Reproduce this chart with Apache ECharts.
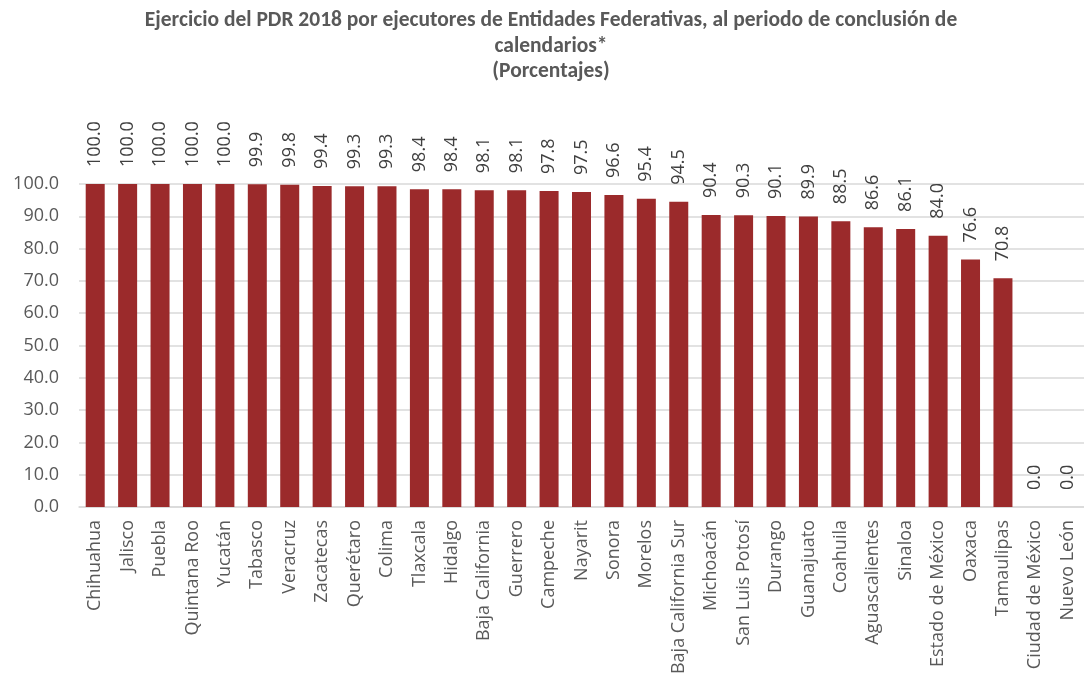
<!DOCTYPE html>
<html><head><meta charset="utf-8">
<script src="https://cdn.jsdelivr.net/npm/echarts@6/dist/echarts.min.js"></script>
<style>html,body{margin:0;padding:0;background:#fff}#c{width:1084px;height:679px}</style>
</head><body><div id="c"></div>
<script>
var categories = ["Chihuahua","Jalisco","Puebla","Quintana Roo","Yucatán","Tabasco","Veracruz","Zacatecas","Querétaro","Colima","Tlaxcala","Hidalgo","Baja California","Guerrero","Campeche","Nayarit","Sonora","Morelos","Baja California Sur","Michoacán","San Luis Potosí","Durango","Guanajuato","Coahuila","Aguascalientes","Sinaloa","Estado de México","Oaxaca","Tamaulipas","Ciudad de México","Nuevo León"];
var values = [100.0,100.0,100.0,100.0,100.0,99.9,99.8,99.4,99.3,99.3,98.4,98.4,98.1,98.1,97.8,97.5,96.6,95.4,94.5,90.4,90.3,90.1,89.9,88.5,86.6,86.1,84.0,76.6,70.8,0.0,0.0];
var titleLines = ["Ejercicio del PDR 2018 por ejecutores de Entidades Federativas, al periodo de conclusión de","calendarios*","(Porcentajes)"];
var yTicks = {min:0, max:100, interval:10};

var titleFont = "Carlito, 'Liberation Sans Narrow', sans-serif";
var font = "'Open Sans', 'Noto Sans', sans-serif";
var chart = echarts.init(document.getElementById('c'));
chart.setOption({
  animation:false,
  title:{text:titleLines.join('\n'), left:546, textAlign:'center', top:3,
    textStyle:{fontFamily:titleFont, fontSize:21.5, fontWeight:'bold', color:'#595959', lineHeight:25.5}},
  grid:{left:79, top:184, width:1014, height:323},
  xAxis:{type:'category', data:categories,
    axisLine:{lineStyle:{color:'#D9D9D9', width:1.5}}, axisTick:{show:false},
    axisLabel:{rotate:90, interval:0, margin:13, color:'#595959', fontFamily:font, fontSize:18}},
  yAxis:{type:'value', min:yTicks.min, max:yTicks.max, interval:yTicks.interval,
    axisLine:{show:false}, axisTick:{show:false},
    splitLine:{lineStyle:{color:'#D9D9D9', width:1.5}},
    axisLabel:{margin:20, color:'#595959', fontFamily:font, fontSize:18,
      formatter:function(v){return v.toFixed(1);}}},
  series:[{type:'bar', data:values, barWidth:19,
    itemStyle:{color:'#9B2A2B'},
    label:{show:true, position:'top', rotate:90, align:'left', verticalAlign:'middle', distance:17,
      color:'#404040', fontFamily:font, fontSize:18,
      formatter:function(p){return p.value.toFixed(1);}}}]
});
</script></body></html>
